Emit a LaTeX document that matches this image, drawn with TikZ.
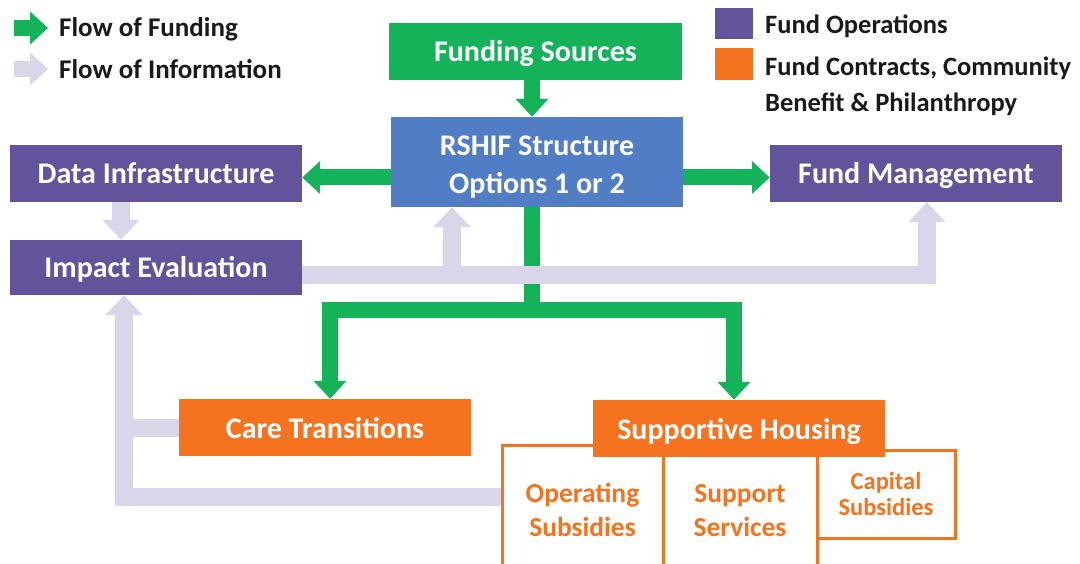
\documentclass[tikz,border=0pt]{standalone}
\usepackage{fontspec}
\setmainfont{Carlito}
\usetikzlibrary{arrows.meta,calc}
\definecolor{cgreen}{RGB}{20,179,90}
\definecolor{cblue}{RGB}{80,125,196}
\definecolor{cpurple}{RGB}{98,83,155}
\definecolor{corange}{RGB}{245,115,30}
\definecolor{clav}{RGB}{216,214,232}
\definecolor{ctext}{RGB}{25,25,25}
\begin{document}
\begin{tikzpicture}[x=1pt,y=-1pt,
  box/.style={rectangle,inner sep=0pt,text=white,align=center,
    font=\fontsize{30}{38}\selectfont\bfseries,text height=24pt,text depth=3pt},
  greenbox/.style={box,fill=cgreen},
  bluebox/.style={box,fill=cblue},
  purplebox/.style={box,fill=cpurple},
  orangebox/.style={box,fill=corange},
  subbox/.style={rectangle,inner sep=0pt,draw=corange,line width=3pt,
    text=corange,align=center,font=\fontsize{27.5}{34}\selectfont\bfseries,
    text height=60pt,text depth=3pt},
  legtext/.style={anchor=west,inner sep=0pt,text=ctext,
    font=\fontsize{27}{30}\selectfont\bfseries,text height=22pt,text depth=4.6pt},
  legtextr/.style={legtext,font=\fontsize{26.5}{30}\selectfont\bfseries},
  fundarrow/.style={draw=cgreen,line width=16pt,line join=miter,
    -{Triangle[length=18pt,width=32pt]}},
  infoarrow/.style={draw=clav,line width=18pt,line join=miter,
    -{Triangle[length=20pt,width=36pt]}},
  infoline/.style={draw=clav,line width=18pt,line join=miter}]
\useasboundingbox (0,0) rectangle (1080,564);
\clip (0,0) rectangle (1080,564);
\fill[white] (0,0) rectangle (1080,564);

% reference coordinates
\coordinate (cx) at (532,0);
\coordinate (ya) at (0,177.5);
\coordinate (jy) at (0,310);
\coordinate (lx) at (330,0);
\coordinate (rx) at (734,0);
\coordinate (ix) at (121,0);
\coordinate (by) at (0,275);
\coordinate (ux1) at (452,0);
\coordinate (ux2) at (927,0);
\coordinate (lx2) at (124,0);
\coordinate (bb) at (0,497);

% sub boxes (drawn first, Supportive Housing covers their tops)
\node[subbox,minimum width=161pt,minimum height=125pt] (op) at (582.5,507.5) {Operating\\Subsidies};
\node[subbox,minimum width=154pt,minimum height=125pt] (ss) at (740,507.5) {Support\\Services};
\node[subbox,minimum width=138pt,minimum height=88pt,
  font=\fontsize{24.5}{26}\selectfont\bfseries,text height=45pt,text depth=3pt] (cs) at (886,494) {Capital\\Subsidies};

% main boxes
\node[greenbox,minimum width=293pt,minimum height=57pt] (fundsrc) at (535.5,51.5) {Funding Sources};
\node[bluebox,minimum width=292pt,minimum height=90pt,text height=67pt,text depth=3pt] (rshif) at (537,162) {RSHIF Structure\\Options 1 or 2};
\node[purplebox,minimum width=292pt,minimum height=57pt] (data) at (156,173.5) {Data Infrastructure};
\node[purplebox,minimum width=292pt,minimum height=57pt] (fmgmt) at (916,173.5) {Fund Management};
\node[purplebox,minimum width=292pt,minimum height=55pt] (impact) at (156,267.5) {Impact Evaluation};
\node[orangebox,minimum width=292pt,minimum height=57pt] (care) at (325,427.5) {Care Transitions};
\node[orangebox,minimum width=292pt,minimum height=57pt] (sh) at (739,428.5) {Supportive Housing};

% flow of funding
\draw[fundarrow] (fundsrc.south -| cx) -- (rshif.north -| cx);
\draw[fundarrow] (rshif.west |- ya) -- (data.east |- ya);
\draw[fundarrow] (rshif.east |- ya) -- (fmgmt.west |- ya);
\draw[fundarrow] (rshif.south -| cx) -- (cx |- jy) -| (care.north -| lx);
\draw[fundarrow] (rshif.south -| cx) -- (cx |- jy) -| (sh.north -| rx);

% flow of information
\draw[infoarrow] (data.south -| ix) -- (impact.north -| ix);
\draw[infoarrow] (impact.east |- by) -| (rshif.south -| ux1);
\draw[infoarrow] (impact.east |- by) -| (fmgmt.south -| ux2);
\draw[infoarrow] (op.west |- bb) -| (impact.south -| lx2);
\draw[infoline] (care.west) -- (care.west -| lx2);

% legend
\coordinate (lga1) at (14,28);
\coordinate (lga2) at (48,28);
\coordinate (lgb1) at (14,69);
\coordinate (lgb2) at (48,69);
\draw[fundarrow] (lga1) -- (lga2);
\draw[infoarrow,line width=16pt,-{Triangle[length=18pt,width=32pt]}] (lgb1) -- (lgb2);
\node[legtext] (lt1) at (59,28) {Flow of Funding};
\node[legtext] (lt2) at (59,70) {Flow of Information};
\node[rectangle,fill=cpurple,minimum width=38pt,minimum height=31pt,inner sep=0pt] (sq1) at (734,23.5) {};
\node[rectangle,fill=corange,minimum width=38pt,minimum height=32pt,inner sep=0pt] (sq2) at (734,64) {};
\node[legtextr] (lt3) at (765,25) {Fund Operations};
\node[legtextr] (lt4) at (765,67) {Fund Contracts, Community};
\node[legtextr] (lt5) at (765,103) {Benefit \& Philanthropy};
\end{tikzpicture}
\end{document}
